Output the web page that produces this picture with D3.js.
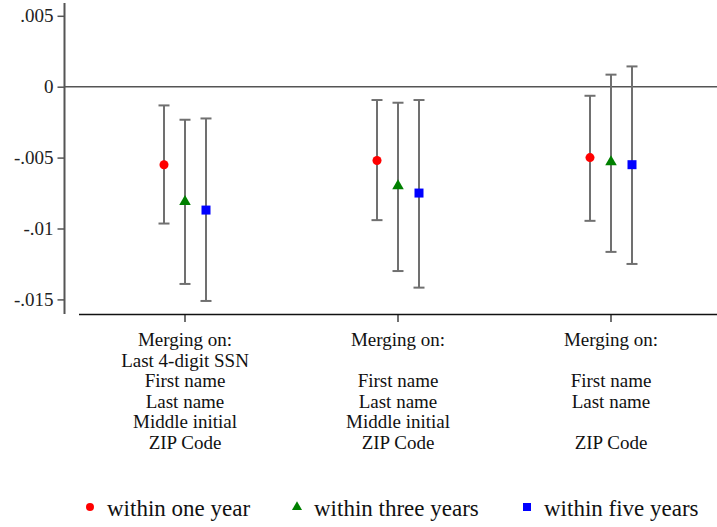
<!DOCTYPE html>
<html>
<head>
<meta charset="utf-8">
<script src="https://cdn.jsdelivr.net/npm/d3@7/dist/d3.min.js"></script>
</head>
<body style="margin:0">
<svg id="fig" width="717" height="527"></svg>
<script>
const serifFace = "Liberation Serif";

// Matching strategies (x categories) and their label lines
const categories = ["A", "B", "C"];
const categoryLabels = [
  ["Merging on:", "Last 4-digit SSN", "First name", "Last name", "Middle initial", "ZIP Code"],
  ["Merging on:", "", "First name", "Last name", "Middle initial", "ZIP Code"],
  ["Merging on:", "", "First name", "Last name", "", "ZIP Code"]
];

// Series: time windows
const series = ["within one year", "within three years", "within five years"];
const seriesColors = ["#ff0000", "#008000", "#0000ff"];
const seriesShapes = ["circle", "triangle", "square"];

// Point estimates per series, one value per category
const estOneYear   = [-0.0055, -0.0052, -0.0050];
const estThreeYear = [-0.0081, -0.0070, -0.0053];
const estFiveYear  = [-0.0087, -0.0075, -0.0055];

// Confidence interval bounds
const loOneYear   = [-0.00965, -0.00941, -0.00946];
const hiOneYear   = [-0.00132, -0.00094, -0.00064];
const loThreeYear = [-0.01391, -0.01300, -0.01165];
const hiThreeYear = [-0.00233, -0.00113,  0.00085];
const loFiveYear  = [-0.01511, -0.01417, -0.01250];
const hiFiveYear  = [-0.00224, -0.00094,  0.00143];

const yTicks = [0.005, 0, -0.005, -0.01, -0.015];
const yTickLabels = [".005", "0", "-.005", "-.01", "-.015"];

const estimates = [estOneYear, estThreeYear, estFiveYear];
const lows = [loOneYear, loThreeYear, loFiveYear];
const highs = [hiOneYear, hiThreeYear, hiFiveYear];

const rows = [];
series.forEach((s, si) => {
  categories.forEach((c, ci) => {
    rows.push({ series: s, si, cat: c, est: estimates[si][ci], lo: lows[si][ci], hi: highs[si][ci] });
  });
});

const svg = d3.select("#fig");

const y = d3.scaleLinear().domain([-0.015, 0.005]).range([299.4, 15.8]);
const x = d3.scaleBand().domain(categories).range([78.5, 717.5]);
const xs = d3.scalePoint().domain(series).range([-21, 21]);
const cx = d => x(d.cat) + x.bandwidth() / 2 + xs(d.series);

const axisGray = "#555";
const barGray = "#707070";

// y axis
const yAxis = d3.axisLeft(y)
  .tickValues(yTicks)
  .tickFormat((d, i) => yTickLabels[i])
  .tickSize(7)
  .tickSizeOuter(0)
  .tickPadding(4);
const yg = svg.append("g").attr("transform", "translate(64.5,0)").call(yAxis)
  .attr("font-family", serifFace);
yg.select(".domain").remove();
yg.selectAll(".tick line").attr("stroke", axisGray).attr("stroke-width", 1.5);
yg.selectAll(".tick text")
  .attr("font-size", 19)
  .attr("font-family", serifFace)
  .attr("fill", "#222");
svg.append("line")
  .attr("x1", 64.5).attr("x2", 64.5).attr("y1", 3).attr("y2", 314)
  .attr("stroke", axisGray).attr("stroke-width", 2);

// zero reference line
svg.append("line")
  .attr("x1", 64.5).attr("x2", 717).attr("y1", y(0)).attr("y2", y(0))
  .attr("stroke", axisGray).attr("stroke-width", 1.5);

// x axis
const xAxis = d3.axisBottom(x).tickSize(8).tickSizeOuter(0).tickFormat("");
const xg = svg.append("g").attr("transform", "translate(0,314)").call(xAxis);
xg.select(".domain").attr("stroke", "#111").attr("stroke-width", 1.5);
xg.selectAll(".tick line").attr("stroke", "#111").attr("stroke-width", 1.2);

// multi-line category labels, one text element per line
categories.forEach((c, ci) => {
  categoryLabels[ci].forEach((line, li) => {
    if (!line) return;
    svg.append("text")
      .attr("text-anchor", "middle")
      .attr("font-family", serifFace)
      .attr("font-size", 19)
      .attr("fill", "#111")
      .attr("x", x(c) + x.bandwidth() / 2)
      .attr("y", 346 + li * 20.5)
      .text(line);
  });
});

// error bars
const bars = svg.append("g");
bars.selectAll("line.whisker").data(rows).join("line")
  .attr("class", "whisker")
  .attr("x1", cx).attr("x2", cx)
  .attr("y1", d => y(d.hi)).attr("y2", d => y(d.lo))
  .attr("stroke", barGray).attr("stroke-width", 2);
["hi", "lo"].forEach(k => {
  bars.selectAll("line.cap-" + k).data(rows).join("line")
    .attr("class", "cap-" + k)
    .attr("x1", d => cx(d) - 5.5).attr("x2", d => cx(d) + 5.5)
    .attr("y1", d => y(d[k])).attr("y2", d => y(d[k]))
    .attr("stroke", barGray).attr("stroke-width", 2);
});

// markers
const symbolFor = {
  circle: d3.symbol(d3.symbolCircle, 64),
  triangle: d3.symbol(d3.symbolTriangle, 58),
  square: d3.symbol(d3.symbolSquare, 81)
};
svg.append("g").selectAll("path").data(rows).join("path")
  .attr("d", d => symbolFor[seriesShapes[d.si]]())
  .attr("transform", d => `translate(${cx(d)},${y(d.est)})`)
  .attr("fill", d => seriesColors[d.si]);

// legend
const legendX = [90, 297, 527];
const legendSymbols = {
  circle: d3.symbol(d3.symbolCircle, 50),
  triangle: d3.symbol(d3.symbolTriangle, 44),
  square: d3.symbol(d3.symbolSquare, 64)
};
series.forEach((s, si) => {
  const g = svg.append("g").attr("transform", `translate(${legendX[si]},507)`);
  g.append("path")
    .attr("d", legendSymbols[seriesShapes[si]]())
    .attr("fill", seriesColors[si]);
  g.append("text")
    .attr("x", 17)
    .attr("y", 9)
    .attr("font-family", serifFace)
    .attr("font-size", 23)
    .attr("fill", "#111")
    .text(s);
});
</script>
</body>
</html>
